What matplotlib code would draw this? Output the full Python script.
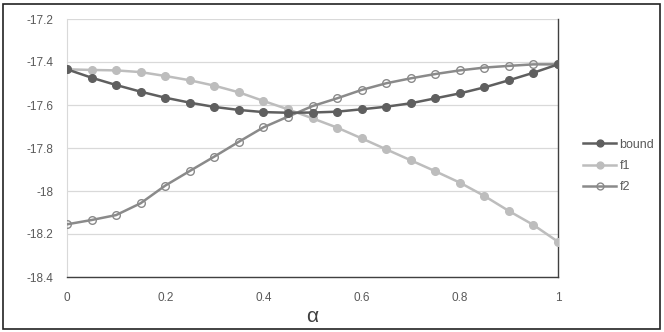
import numpy as np
import matplotlib.pyplot as plt
from matplotlib.patches import Rectangle

alpha = [0, 0.05, 0.1, 0.15, 0.2, 0.25, 0.3, 0.35, 0.4, 0.45, 0.5,
         0.55, 0.6, 0.65, 0.7, 0.75, 0.8, 0.85, 0.9, 0.95, 1.0]

bound = [-17.434, -17.473, -17.507, -17.538, -17.566, -17.589, -17.609, -17.623, -17.633, -17.636, -17.635,
         -17.631, -17.620, -17.608, -17.592, -17.569, -17.546, -17.518, -17.485, -17.450, -17.411]
f1 = [-17.434, -17.437, -17.439, -17.447, -17.465, -17.485, -17.510, -17.541, -17.581, -17.620, -17.662,
      -17.705, -17.755, -17.806, -17.857, -17.908, -17.961, -18.023, -18.093, -18.158, -18.236]
f2 = [-18.155, -18.135, -18.112, -18.057, -17.975, -17.907, -17.840, -17.771, -17.704, -17.654, -17.605,
      -17.569, -17.530, -17.499, -17.476, -17.456, -17.439, -17.426, -17.418, -17.411, -17.411]

yticks = [-18.4, -18.2, -18, -17.8, -17.6, -17.4, -17.2]
ylabels = ["-18.4", "-18.2", "-18", "-17.8", "-17.6", "-17.4", "-17.2"]
xticks = [0, 0.2, 0.4, 0.6, 0.8, 1]
xlabels = ["0", "0.2", "0.4", "0.6", "0.8", "1"]

plt.rcParams['font.family'] = ['Liberation Sans', 'DejaVu Sans']

fig = plt.figure(figsize=(6.64, 3.32), dpi=100)
ax = fig.add_axes([67/664, 1 - 277/332, (558 - 67)/664, (277 - 19)/332])

ax.plot(alpha, f2, color="#8a8a8a", lw=1.8, marker="o", ms=5.5,
        mfc="none", mec="#8a8a8a", mew=1.0, label="f2", zorder=3)
ax.plot(alpha, f1, color="#bdbdbd", lw=1.8, marker="o", ms=5.5,
        mfc="#bdbdbd", mec="#bdbdbd", label="f1", zorder=4)
ax.plot(alpha, bound, color="#5f5f5f", lw=1.8, marker="o", ms=5.5,
        mfc="#5f5f5f", mec="#5f5f5f", label="bound", zorder=5)

ax.set_xlim(0, 1)
ax.set_ylim(-18.4, -17.2)
ax.set_yticks(yticks)
ax.set_yticklabels(ylabels)
ax.set_xticks(xticks)
ax.set_xticklabels(xlabels)
ax.tick_params(length=0, labelsize=8.5, labelcolor="#595959", pad=10)
ax.tick_params(axis="x", pad=11)
ax.grid(axis="y", color="#d9d9d9", lw=0.9)
ax.set_axisbelow(True)

ax.spines["top"].set_visible(False)
ax.spines["left"].set_color("#d9d9d9")
ax.spines["bottom"].set_color("#404040")
ax.spines["right"].set_color("#404040")
ax.spines["bottom"].set_linewidth(1.0)
ax.spines["right"].set_linewidth(1.0)

ax.set_xlabel("α", fontsize=15, color="#404040", labelpad=2)

h, l = ax.get_legend_handles_labels()
order = [2, 1, 0]
fig.legend([h[i] for i in order], [l[i] for i in order],
           loc="center left", bbox_to_anchor=(572/664, 1 - 166/332),
           frameon=False, fontsize=9, labelcolor="#595959", markerscale=0.9,
           handlelength=2.6, handletextpad=0.3, labelspacing=0.75)

fig.patches.append(Rectangle((3/664, 3/332), 657/664, 325/332, transform=fig.transFigure,
                             fill=False, edgecolor="#222222", lw=1.2))

fig.savefig("out.png", dpi=100)
